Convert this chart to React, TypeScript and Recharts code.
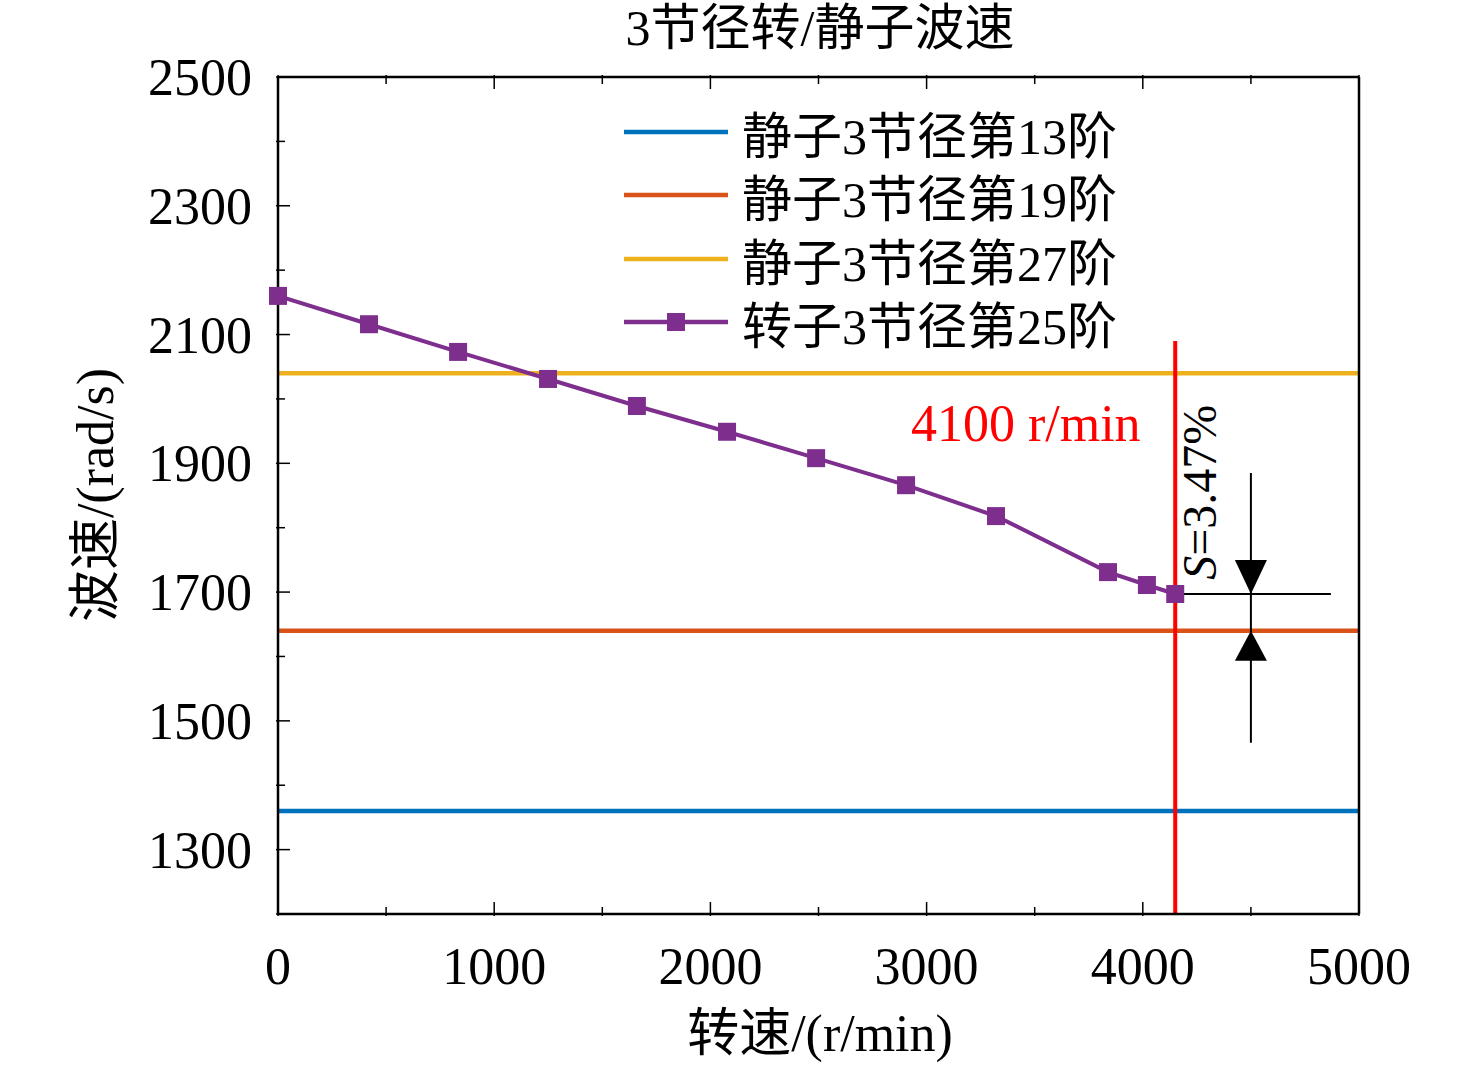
import React from 'react';
import { LineChart, Line, XAxis, YAxis, ReferenceLine, ReferenceDot } from 'recharts';

const speed = [0, 421, 833, 1249, 1660, 2077, 2489, 2905, 3321, 3839, 4019, 4150];
const rotor25 = [2160, 2116, 2073, 2031, 1989, 1949, 1908, 1866, 1818, 1731, 1711, 1697];
const stator13 = 1360;
const stator19 = 1640;
const stator27 = 2040;
const xTicks = [0, 500, 1000, 1500, 2000, 2500, 3000, 3500, 4000, 4500, 5000];
const yTicks = [1200, 1300, 1400, 1500, 1600, 1700, 1800, 1900, 2000, 2100, 2200, 2300, 2400, 2500];
const legendItems = [
  { name: '静子3节径第13阶', color: '#0072BD', marker: false },
  { name: '静子3节径第19阶', color: '#D95319', marker: false },
  { name: '静子3节径第27阶', color: '#EDB120', marker: false },
  { name: '转子3节径第25阶', color: '#7E2F8E', marker: true },
];
const data = speed.map((s, i) => ({ s, v: rotor25[i] }));
const FONT = '"Liberation Serif", "Noto Sans CJK SC", serif';

const YTick = (side: 'left' | 'right') => (p: any) => {
  const v = p.payload.value;
  const major = (v - 1300) % 200 === 0;
  const len = major ? 14 : 9;
  const dir = side === 'left' ? 1 : -1;
  return (
    <g>
      <line x1={p.x} x2={p.x + dir * len} y1={p.y} y2={p.y} stroke="#000" strokeWidth={1.5} />
      {side === 'left' && major && (
        <text x={p.x - 24} y={p.y + 18} textAnchor="end" fontSize={52} fontFamily={FONT}>{v}</text>
      )}
    </g>
  );
};
const XTick = (side: 'bottom' | 'top') => (p: any) => {
  const v = p.payload.value;
  const major = v % 1000 === 0;
  const len = major ? 14 : 9;
  const dir = side === 'bottom' ? -1 : 1;
  return (
    <g>
      <line x1={p.x} x2={p.x} y1={p.y} y2={p.y + dir * len} stroke="#000" strokeWidth={1.5} />
      {side === 'bottom' && major && (
        <text x={p.x} y={p.y + 68} textAnchor="middle" fontSize={52} fontFamily={FONT}>{v}</text>
      )}
    </g>
  );
};

const Square = (p: any) => (
  <rect x={p.cx - 9} y={p.cy - 9} width={18} height={18} fill="#7E2F8E" />
);

const TriDown = (p: any) => (
  <polygon points={`${p.cx - 16},${p.cy - 34} ${p.cx + 16},${p.cy - 34} ${p.cx},${p.cy}`} fill="#000" />
);
const TriUp = (p: any) => (
  <polygon points={`${p.cx - 16},${p.cy + 30} ${p.cx + 16},${p.cy + 30} ${p.cx},${p.cy}`} fill="#000" />
);
const SLabel = (p: any) => (
  <text transform={`translate(${p.cx + 30},${p.cy}) rotate(-90)`} fontSize={48} fontFamily={FONT} textAnchor="middle">
    <tspan fontStyle="italic">S</tspan>=3.47%
  </text>
);
const RedLabel = (p: any) => (
  <text x={p.cx} y={p.cy + 16} fontSize={52} fill="#FF0000" fontFamily={FONT} textAnchor="end">4100 r/min</text>
);

export default function App() {
  return (
    <div style={{ position: 'absolute', left: 0, top: 0, width: 1476, height: 1069, background: '#fff', fontFamily: FONT }}>
      <LineChart width={1476} height={1069} data={data} margin={{ top: 67, right: 0, bottom: 0, left: 0 }}>
        <XAxis xAxisId="b" dataKey="s" type="number" domain={[0, 5000]} ticks={xTicks} height={155}
          tickSize={0} tickLine={false} tick={XTick('bottom')} axisLine={{ stroke: '#000', strokeWidth: 2.5 }} interval={0} />
        <XAxis xAxisId="t" orientation="top" dataKey="s" type="number" domain={[0, 5000]} ticks={xTicks} height={10}
          tickSize={0} tickLine={false} tick={XTick('top')} axisLine={{ stroke: '#000', strokeWidth: 2.5 }} interval={0} />
        <YAxis yAxisId="l" type="number" domain={[1200, 2500]} ticks={yTicks} width={278}
          tickSize={0} tickLine={false} tick={YTick('left')} axisLine={{ stroke: '#000', strokeWidth: 2.5 }} interval={0} />
        <YAxis yAxisId="r" orientation="right" type="number" domain={[1200, 2500]} ticks={yTicks} width={117}
          tickSize={0} tickLine={false} tick={YTick('right')} axisLine={{ stroke: '#000', strokeWidth: 2.5 }} interval={0} />
        <ReferenceLine xAxisId="b" yAxisId="l" y={stator13} stroke="#0072BD" strokeWidth={4.5} />
        <ReferenceLine xAxisId="b" yAxisId="l" y={stator19} stroke="#D95319" strokeWidth={4.5} />
        <ReferenceLine xAxisId="b" yAxisId="l" y={stator27} stroke="#EDB120" strokeWidth={4.5} />
        <Line xAxisId="b" yAxisId="l" dataKey="v" stroke="#7E2F8E" strokeWidth={4} dot={<Square />} isAnimationActive={false} />
        <ReferenceLine xAxisId="b" yAxisId="l" stroke="#FF0000" strokeWidth={4} segment={[{ x: 4150, y: 1200 }, { x: 4150, y: 2090 }]} />
        <ReferenceLine xAxisId="b" yAxisId="l" stroke="#000" strokeWidth={2} segment={[{ x: 4150, y: 1697 }, { x: 4870, y: 1697 }]} />
        <ReferenceLine xAxisId="b" yAxisId="l" stroke="#000" strokeWidth={2} segment={[{ x: 4500, y: 1466 }, { x: 4500, y: 1885 }]} />
        <ReferenceDot xAxisId="b" yAxisId="l" x={4500} y={1697} shape={<TriDown />} />
        <ReferenceDot xAxisId="b" yAxisId="l" x={4500} y={1640} shape={<TriUp />} />
        <ReferenceDot xAxisId="b" yAxisId="l" x={4200} y={1855} shape={<SLabel />} />
        <ReferenceDot xAxisId="b" yAxisId="l" x={3990} y={1960} shape={<RedLabel />} />
      </LineChart>
      <div style={{ position: 'absolute', left: 0, width: 1640, top: 0, textAlign: 'center', fontSize: 50, lineHeight: '56px' }}>3节径转/静子波速</div>
      <div style={{ position: 'absolute', left: 0, width: 1640, top: 1004, textAlign: 'center', fontSize: 52, lineHeight: '60px' }}>转速/(r/min)</div>
      <div style={{ position: 'absolute', left: 90, top: 495, fontSize: 52, whiteSpace: 'nowrap', transform: 'translate(-50%,-50%) rotate(-90deg)' }}>波速/(rad/s)</div>
      <div style={{ position: 'absolute', left: 624, top: 100 }}>
        {legendItems.map((it) => (
          <div key={it.name} style={{ display: 'flex', alignItems: 'center', height: 63.5 }}>
            <svg width={104} height={20} style={{ marginRight: 14 }}>
              <line x1={0} x2={104} y1={10} y2={10} stroke={it.color} strokeWidth={4.5} />
              {it.marker && <rect x={43} y={1} width={18} height={18} fill={it.color} />}
            </svg>
            <span style={{ fontSize: 50, whiteSpace: 'nowrap' }}>{it.name}</span>
          </div>
        ))}
      </div>
    </div>
  );
}
